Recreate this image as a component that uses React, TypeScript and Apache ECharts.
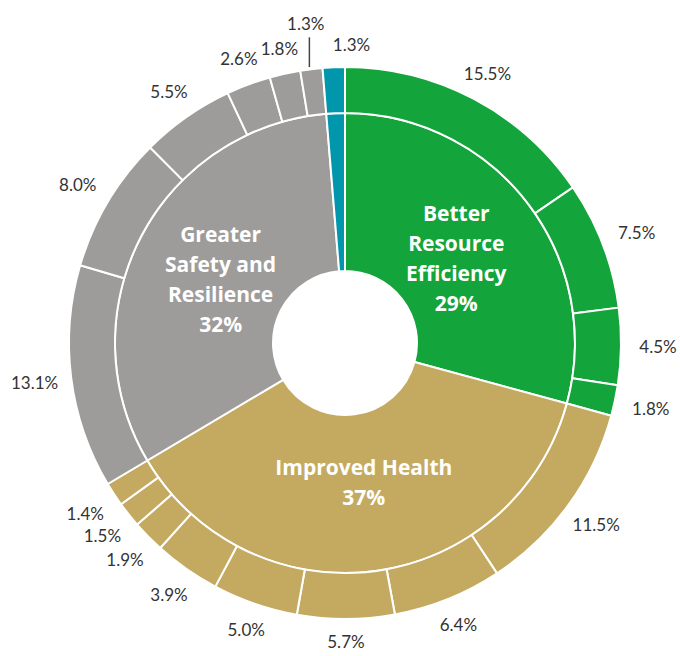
import React, { useEffect, useRef } from "react";
import * as echarts from "echarts";

const categories = ["Better Resource Efficiency", "Improved Health", "Greater Safety and Resilience", "Other"];
const categoryLabels = ["Better\nResource\nEfficiency\n29%", "Improved Health\n37%", "Greater\nSafety and\nResilience\n32%", ""];
const efficiencyValues = [15.5, 7.5, 4.5, 1.8];
const healthValues = [11.5, 6.4, 5.7, 5.0, 3.9, 1.9, 1.5, 1.4];
const safetyValues = [13.1, 8.0, 5.5, 2.6, 1.8, 1.3];
const otherValues = [1.3];
const colors = ["#13a43b", "#c4aa60", "#9d9c9a", "#0097ad"];

const groups = [efficiencyValues, healthValues, safetyValues, otherValues];

const CX = 345;
const CY = 343;

export default function App() {
  const ref = useRef<HTMLDivElement>(null);
  useEffect(() => {
    if (!ref.current) return;
    const chart = echarts.init(ref.current, undefined, { renderer: "svg" });

    const innerValues = groups.map((g) => g.reduce((a, b) => a + b, 0));
    const innerData = categories.map((name, gi) => ({
      name,
      value: innerValues[gi],
      itemStyle: { color: colors[gi] },
      label: { formatter: categoryLabels[gi] },
    }));
    const innerTotal = innerValues.reduce((a, b) => a + b, 0);
    const innerCum: number[] = [];
    let ia = 0;
    innerValues.forEach((v) => {
      innerCum.push(ia);
      ia += v;
    });

    const outerValues: number[] = [];
    const outerData: any[] = [];
    groups.forEach((g, gi) => {
      g.forEach((v, k) => {
        outerValues.push(v);
        outerData.push({
          name: categories[gi] + " " + (k + 1),
          value: v,
          itemStyle: { color: colors[gi] },
        });
      });
    });
    const total = outerValues.reduce((a, b) => a + b, 0);
    const cum: number[] = [];
    let acc = 0;
    outerValues.forEach((v) => {
      cum.push(acc);
      acc += v;
    });
    const leaderIndex = efficiencyValues.length + healthValues.length + safetyValues.length - 1;
    const tealIndex = outerValues.length - 1;
    outerData[leaderIndex].labelLine = { show: true, lineStyle: { color: "#444", width: 1.5 } };

    chart.setOption({
      animation: false,
      series: [
        {
          type: "pie",
          center: [CX, CY],
          radius: [72, 230],
          startAngle: 90,
          clockwise: true,
          avoidLabelOverlap: false,
          silent: true,
          itemStyle: { borderColor: "#fff", borderWidth: 2 },
          label: {
            show: true,
            position: "inside",
            color: "#fff",
            fontFamily: "'Open Sans', Lato, sans-serif",
            fontWeight: "bold",
            fontSize: 21,
            lineHeight: 30,
            align: "center",
          },
          labelLine: { show: false },
          labelLayout: (params: any) => {
            const i = params.dataIndex;
            const mid = ((innerCum[i] + innerValues[i] / 2) / innerTotal) * Math.PI * 2;
            const r = 140;
            return {
              x: CX + r * Math.sin(mid),
              y: CY - r * Math.cos(mid),
              align: "center",
              verticalAlign: "middle",
            };
          },
          data: innerData,
        },
        {
          type: "pie",
          center: [CX, CY],
          radius: [230, 276],
          startAngle: 90,
          clockwise: true,
          avoidLabelOverlap: false,
          silent: true,
          itemStyle: { borderColor: "#fff", borderWidth: 2 },
          label: {
            show: true,
            position: "outside",
            formatter: (p: any) => p.value.toFixed(1) + "%",
            color: "#333",
            fontFamily: "Lato, 'Noto Sans', sans-serif",
            fontWeight: "normal",
            fontSize: 17,
          },
          labelLine: { show: false },
          labelLayout: (params: any) => {
            const i = params.dataIndex;
            const mid = ((cum[i] + outerValues[i] / 2) / total) * Math.PI * 2;
            const s = Math.sin(mid);
            const c = Math.cos(mid);
            if (i === leaderIndex) {
              const lx = CX + 292 * s;
              return {
                x: CX + 322 * s,
                y: CY - 322 * c,
                align: "center",
                verticalAlign: "middle",
                labelLinePoints: [
                  [lx, CY - 278 * c],
                  [lx, CY - 293 * c],
                  [lx, CY - 308 * c],
                ],
              };
            }
            const r = 298 + 15 * Math.abs(s);
            return {
              x: CX + r * s,
              y: CY - r * c,
              align: i === tealIndex ? "left" : "center",
              verticalAlign: "middle",
            };
          },
          data: outerData,
        },
      ],
    });
    return () => chart.dispose();
  }, []);
  return (
    <div
      ref={ref}
      style={{ position: "fixed", left: 0, top: 0, width: 680, height: 656, background: "#fff" }}
    />
  );
}
